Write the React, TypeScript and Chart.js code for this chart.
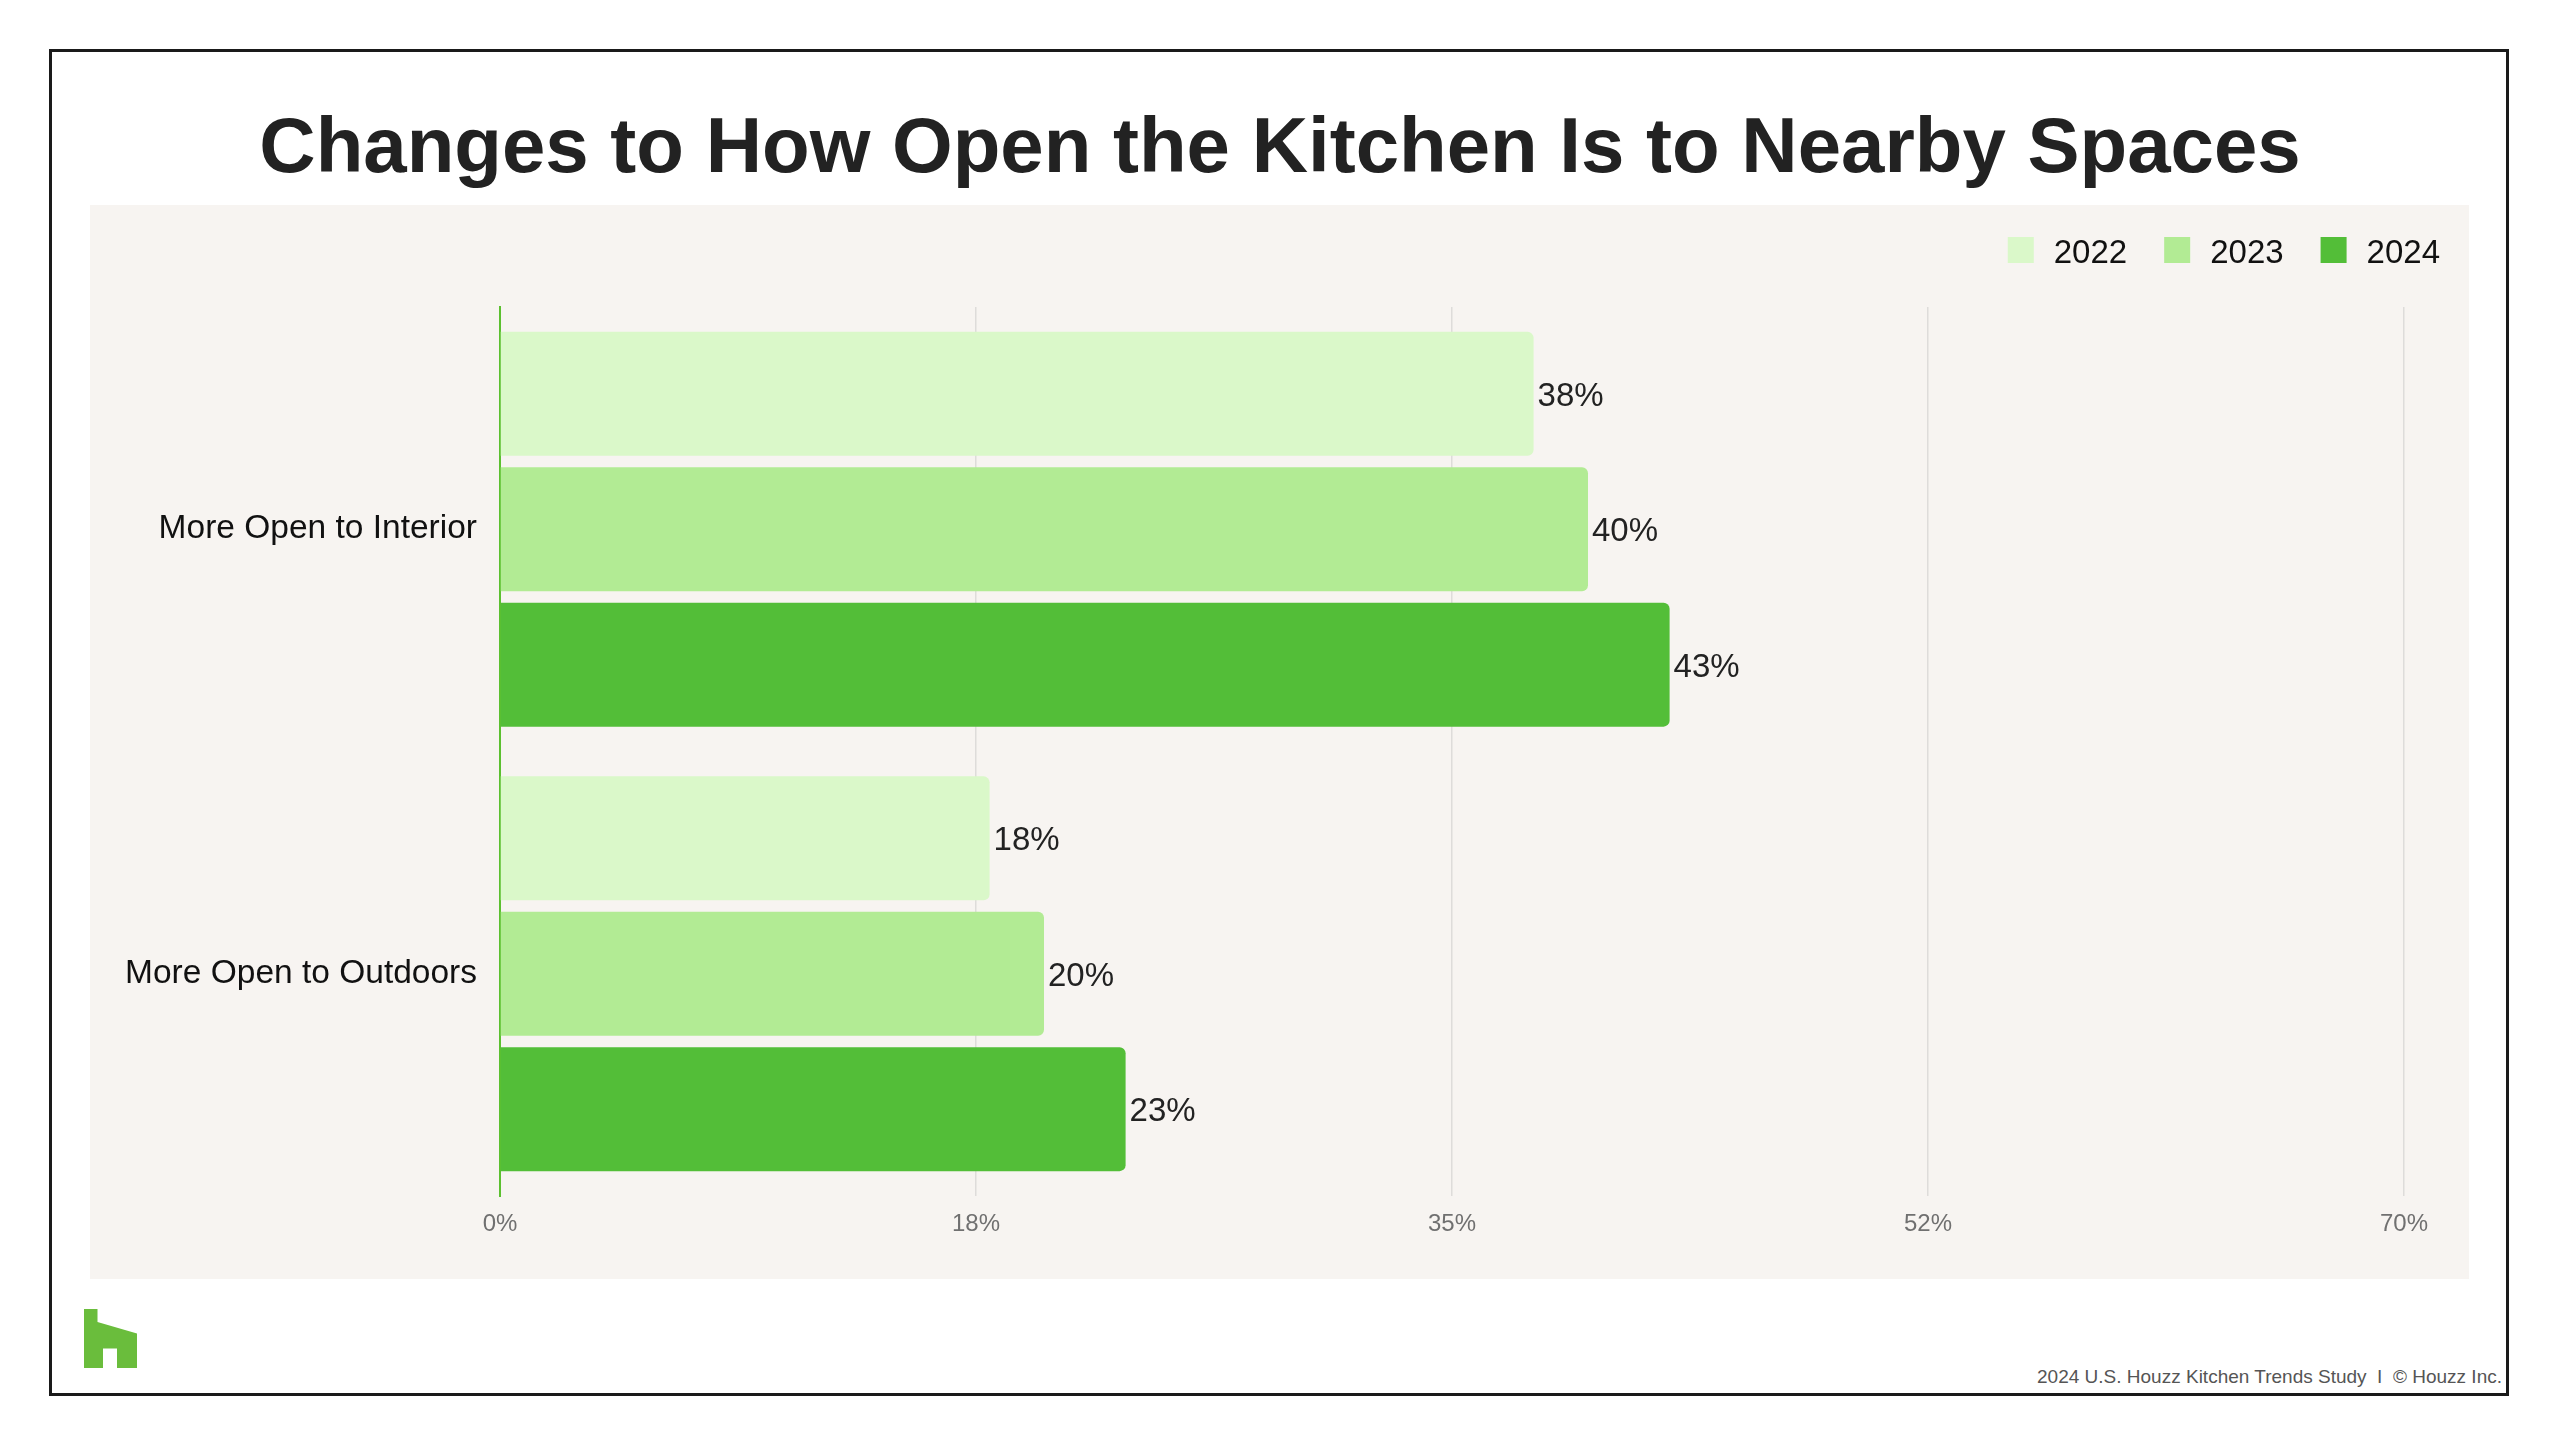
import { useEffect, useRef } from 'react';
import { Chart, registerables } from 'chart.js';

Chart.register(...registerables);

const categories = ['More Open to Interior', 'More Open to Outdoors'];
const years = ['2022', '2023', '2024'];
const values2022 = [38, 18];
const values2023 = [40, 20];
const values2024 = [43, 23];
const tickLabels = ['0%', '18%', '35%', '52%', '70%'];
const barColors = ['#DAF8C9', '#B2EB94', '#53BE38'];

const FONT = '"Liberation Sans", Arial, Helvetica, sans-serif';

const valueLabelPlugin = {
  id: 'valueLabels',
  afterDatasetsDraw(chart: any) {
    const ctx = chart.ctx;
    ctx.save();
    ctx.font = `33px ${FONT}`;
    ctx.fillStyle = '#222222';
    ctx.textAlign = 'left';
    ctx.textBaseline = 'middle';
    chart.data.datasets.forEach((ds: any, di: number) => {
      const meta = chart.getDatasetMeta(di);
      meta.data.forEach((el: any, i: number) => {
        ctx.fillText(`${ds.data[i]}%`, el.x + 4, el.y + 3);
      });
    });
    ctx.restore();
  },
};

const customLegendPlugin = {
  id: 'customLegend',
  afterDraw(chart: any) {
    const ctx = chart.ctx;
    ctx.save();
    ctx.font = `33px ${FONT}`;
    ctx.textAlign = 'left';
    ctx.textBaseline = 'alphabetic';
    let right = chart.width - 29;
    const ds = chart.data.datasets;
    for (let i = ds.length - 1; i >= 0; i--) {
      const label = ds[i].label;
      const w = ctx.measureText(label).width;
      const textX = right - w;
      const boxX = textX - 20 - 26;
      ctx.fillStyle = ds[i].backgroundColor;
      ctx.fillRect(boxX, 32, 26, 26);
      ctx.fillStyle = '#111111';
      ctx.fillText(label, textX, 58);
      right = boxX - 37;
    }
    ctx.restore();
  },
};

function App() {
  const canvasRef = useRef<HTMLCanvasElement | null>(null);

  useEffect(() => {
    if (!canvasRef.current) return;
    const seriesValues = [values2022, values2023, values2024];
    const chart = new Chart(canvasRef.current, {
      type: 'bar',
      data: {
        labels: categories,
        datasets: years.map((y, i) => ({
          label: y,
          data: seriesValues[i],
          backgroundColor: barColors[i],
          borderWidth: 0,
          borderRadius: 6,
          categoryPercentage: 0.914,
          barPercentage: 0.915,
        })),
      },
      options: {
        indexAxis: 'y',
        responsive: false,
        animation: false,
        layout: { padding: { top: 102, right: 65, bottom: 0, left: 0 } },
        plugins: {
          legend: { display: false },
          tooltip: { enabled: false },
          title: { display: false },
        },
        scales: {
          x: {
            min: 0,
            max: 70,
            ticks: {
              stepSize: 17.5,
              padding: 14,
              color: '#707070',
              font: { family: FONT, size: 24 },
              callback: (_v: any, i: number) => tickLabels[i],
            },
            grid: { color: '#DEDCDA', lineWidth: 1.5, drawTicks: false },
            border: { display: false },
            afterFit: (s: any) => {
              s.height = 83;
            },
          },
          y: {
            ticks: {
              padding: 23,
              color: '#111111',
              font: { family: FONT, size: 33.5 },
            },
            grid: { display: false, drawTicks: false },
            border: { display: true, color: '#5CC030', width: 2 },
            afterFit: (s: any) => {
              s.width = 410;
            },
          },
        },
      },
      plugins: [valueLabelPlugin, customLegendPlugin],
    } as any);
    return () => chart.destroy();
  }, []);

  return (
    <div style={{ position: 'absolute', left: 0, top: 0, width: 2560, height: 1446, background: '#ffffff', fontFamily: FONT }}>
      <div
        style={{
          position: 'absolute',
          left: 49,
          top: 49,
          width: 2460,
          height: 1347,
          border: '3px solid #1a1a1a',
          boxSizing: 'border-box',
        }}
      />
      <div
        style={{
          position: 'absolute',
          left: 0,
          top: 106,
          width: 2560,
          textAlign: 'center',
          fontSize: 78,
          lineHeight: '79px',
          fontWeight: 700,
          color: '#222222',
          whiteSpace: 'nowrap',
        }}
      >
        Changes to How Open the Kitchen Is to Nearby Spaces
      </div>
      <div style={{ position: 'absolute', left: 90, top: 205, width: 2379, height: 1074, background: '#F7F4F1' }}>
        <canvas ref={canvasRef} width={2379} height={1074} style={{ display: 'block', width: 2379, height: 1074 }} />
      </div>
      <svg
        style={{ position: 'absolute', left: 84, top: 1309 }}
        width={53}
        height={59}
        viewBox="0 0 53 59"
      >
        <polygon points="0,0 13.5,0 13.5,13 53,24.5 53,59 33,59 33,39.5 19,39.5 19,59 0,59" fill="#6ABD3C" />
      </svg>
      <div
        style={{
          position: 'absolute',
          right: 2560 - 2502,
          top: 1367,
          fontSize: 19,
          lineHeight: '20px',
          color: '#555555',
          whiteSpace: 'pre',
        }}
      >
        {'2024 U.S. Houzz Kitchen Trends Study  I  © Houzz Inc.'}
      </div>
    </div>
  );
}

export default App;
